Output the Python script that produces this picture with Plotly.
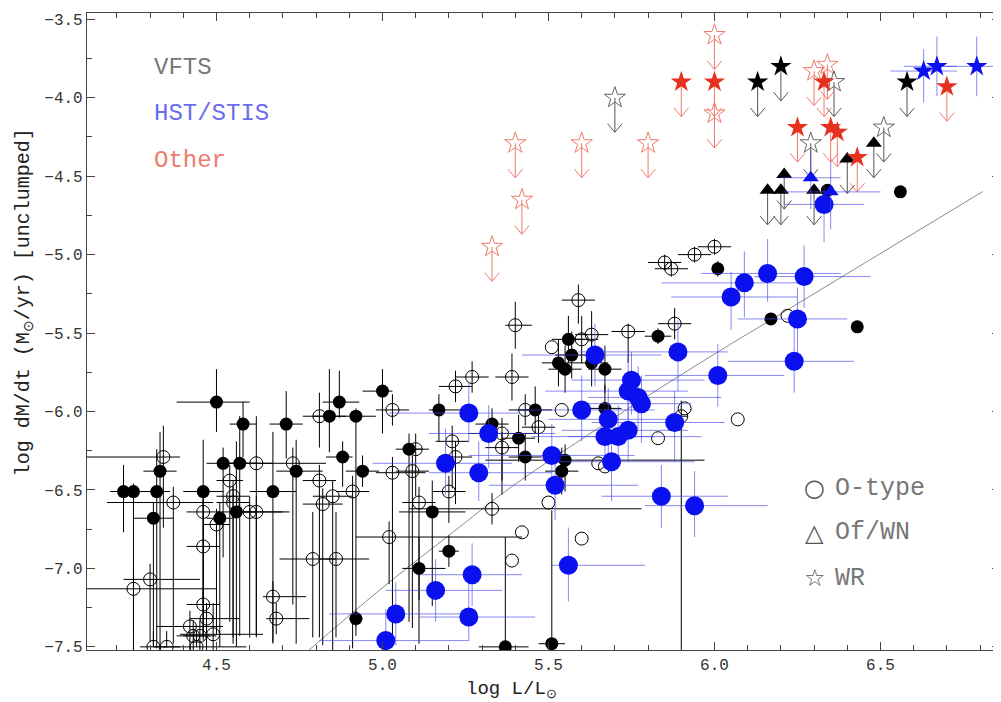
import plotly.graph_objects as go

# ---------------- data (log L/Lsun, log Mdot, errors: x-, x+, y-, y+) ----------------
# VFTS O-type, filled symbols
vf_L = [4.22, 4.25, 4.32, 4.33, 4.31, 4.46, 4.50, 4.58, 4.52, 4.57, 4.51, 4.56, 4.67, 4.71, 4.74, 4.84,
        4.87, 4.92, 5.00, 4.88, 4.94, 5.08, 5.17, 5.15, 5.20, 5.11, 4.92, 5.37, 5.51, 5.33, 5.41, 5.43,
        5.46, 5.55, 5.54, 5.56, 5.57, 5.53, 5.55, 5.63, 5.67, 5.67, 5.83, 6.01, 6.17, 6.43, 6.34, 6.56]
vf_M = [-6.51, -6.51, -6.51, -6.38, -6.68, -6.51, -5.94, -6.08, -6.33, -6.33, -6.68, -6.64, -6.51, -6.08, -6.38, -6.03,
        -5.94, -6.03, -5.87, -6.29, -6.38, -6.24, -5.99, -6.64, -6.89, -7.00, -7.32, -7.50, -7.48, -6.08, -6.17, -6.29,
        -5.99, -6.31, -6.38, -5.54, -5.64, -5.69, -5.73, -5.69, -5.73, -5.98, -5.52, -5.09, -5.41, -5.46, -4.59, -4.60]
vf_exm = [0.04, 0.05, 0.04, 0.05, 0.06, 0.06, 0.12, 0.04, 0.05, 0.05, 0.04, 0.06, 0.07, 0.05, 0.06, 0.05,
          0.05, 0.06, 0.06, 0.05, 0.05, 0.04, 0.03, 0.10, 0.03, 0.05, 0.02, 0.08, 0.04, 0.05, 0.05, 0.05,
          0.05, 0.24, 0.05, 0.05, 0.05, 0.05, 0.05, 0.05, 0.05, 0.05, 0.04, 0.00, 0.00, 0.00, 0.00, 0.00]
vf_exp = [0.04, 0.05, 0.04, 0.05, 0.06, 0.06, 0.10, 0.04, 0.05, 0.05, 0.04, 0.06, 0.07, 0.05, 0.08, 0.05,
          0.06, 0.06, 0.03, 0.03, 0.05, 0.04, 0.10, 0.10, 0.03, 0.08, 0.02, 0.07, 0.04, 0.05, 0.05, 0.05,
          0.05, 0.42, 0.05, 0.05, 0.05, 0.05, 0.05, 0.05, 0.05, 0.05, 0.04, 0.00, 0.00, 0.00, 0.00, 0.00]
vf_eym = [0.26, 0.88, 1.00, 1.12, 0.82, 0.71, 0.19, 0.21, 0.60, 1.10, 0.82, 0.86, 0.96, 0.22, 1.10, 0.23,
          0.10, 1.40, 0.27, 0.19, 0.10, 1.10, 0.20, 0.60, 0.10, 0.20, 0.05, 0.00, 0.00, 0.10, 0.15, 0.15,
          0.15, 0.20, 0.15, 0.15, 0.15, 0.15, 0.15, 0.15, 0.15, 0.15, 0.05, 0.05, 0.00, 0.00, 0.00, 0.00]
vf_eyp = [0.17, 0.05, 0.27, 0.25, 0.10, 0.33, 0.21, 0.14, 0.10, 0.30, 0.10, 0.45, 0.38, 0.21, 0.20, 0.30,
          0.20, 0.05, 0.14, 0.10, 0.10, 0.10, 0.10, 0.20, 0.10, 0.20, 0.05, 0.70, 0.85, 0.10, 0.15, 0.15,
          0.15, 0.10, 0.15, 0.15, 0.15, 0.15, 0.15, 0.15, 0.15, 0.15, 0.05, 0.05, 0.00, 0.00, 0.00, 0.00]

# VFTS O-type, open symbols
vo_L = [4.34, 4.62, 4.54, 4.55, 4.55, 4.37, 4.46, 4.50, 4.60, 4.62, 4.46, 4.30, 4.25, 4.67, 4.46, 4.47,
        4.42, 4.49, 4.43, 4.45, 4.31, 4.35, 4.44, 4.68, 4.81, 5.03, 4.73, 4.81, 4.85, 4.82, 4.91, 5.03,
        5.09, 5.10, 5.11, 5.02, 4.79, 4.86, 5.22, 5.27, 5.39, 5.40, 5.21, 5.22, 5.20, 5.36, 5.36, 5.47,
        5.43, 5.54, 5.33, 5.50, 5.42, 5.60, 5.39, 5.65, 5.67, 5.59, 5.51, 5.60, 5.63, 5.74, 5.88, 5.85,
        5.87, 5.94, 6.00, 6.22, 5.91, 5.90, 6.07, 5.83]
vo_M = [-6.29, -6.33, -6.44, -6.54, -6.58, -6.58, -6.64, -6.72, -6.64, -6.64, -6.86, -7.07, -7.13, -7.18, -7.23, -7.32,
        -7.37, -7.42, -7.43, -7.43, -7.50, -7.50, -7.50, -7.32, -6.03, -5.99, -6.33, -6.44, -6.54, -6.59, -6.51, -6.39,
        -6.38, -6.24, -6.58, -6.80, -6.94, -6.94, -5.84, -5.78, -5.78, -5.45, -6.19, -6.29, -6.51, -6.14, -6.23, -6.10,
        -5.99, -5.99, -6.62, -6.58, -6.77, -6.81, -6.95, -6.33, -6.35, -5.29, -5.59, -5.54, -5.51, -5.49, -5.44, -5.05,
        -5.09, -5.00, -4.95, -5.39, -5.98, -6.03, -6.05, -6.17]
vo_exm = [0.25, 0.04, 0.04, 0.05, 0.05, 0.20, 0.05, 0.04, 0.05, 0.05, 0.05, 0.08, 0.15, 0.03, 0.05, 0.05,
          0.10, 0.10, 0.05, 0.05, 0.04, 0.04, 0.10, 0.03, 0.05, 0.05, 0.20, 0.05, 0.06, 0.06, 0.05, 0.05,
          0.05, 0.04, 0.05, 0.10, 0.10, 0.05, 0.05, 0.05, 0.05, 0.03, 0.05, 0.05, 0.05, 0.10, 0.05, 0.05,
          0.05, 0.00, 0.25, 0.00, 0.00, 0.00, 0.00, 0.00, 0.00, 0.05, 0.00, 0.05, 0.05, 0.05, 0.05, 0.05,
          0.05, 0.05, 0.05, 0.00, 0.00, 0.02, 0.00, 0.00]
vo_exp = [0.05, 0.05, 0.04, 0.05, 0.05, 0.12, 0.05, 0.04, 0.10, 0.10, 0.05, 0.15, 0.25, 0.10, 0.05, 0.10,
          0.10, 0.15, 0.05, 0.05, 0.04, 0.04, 0.15, 0.10, 0.05, 0.05, 0.10, 0.05, 0.06, 0.06, 0.05, 0.10,
          0.05, 0.04, 0.05, 0.40, 0.07, 0.10, 0.05, 0.05, 0.05, 0.05, 0.05, 0.05, 0.05, 0.10, 0.05, 0.05,
          0.05, 0.00, 0.45, 0.00, 0.00, 0.00, 0.00, 0.00, 0.00, 0.05, 0.00, 0.05, 0.05, 0.05, 0.05, 0.05,
          0.05, 0.05, 0.05, 0.00, 0.00, 0.02, 0.00, 0.00]
vo_eym = [0.45, 1.10, 0.90, 0.90, 0.90, 0.90, 0.80, 0.70, 0.80, 0.80, 0.60, 0.40, 0.40, 0.30, 0.20, 0.20,
          0.15, 0.10, 0.10, 0.10, 0.00, 0.00, 0.00, 0.10, 0.20, 0.10, 0.90, 1.00, 1.00, 0.90, 1.00, 1.10,
          1.00, 0.30, 0.90, 0.30, 0.50, 0.50, 0.10, 0.10, 0.15, 0.15, 0.30, 0.30, 0.20, 0.30, 0.30, 0.10,
          0.10, 0.00, 0.10, 0.00, 0.00, 0.00, 0.00, 0.00, 0.00, 0.15, 0.00, 0.15, 0.15, 0.20, 0.10, 0.05,
          0.05, 0.05, 0.05, 0.00, 0.00, 1.50, 0.00, 0.00]
vo_eyp = [0.20, 0.30, 0.10, 0.10, 0.10, 0.10, 0.10, 0.10, 0.10, 0.10, 0.30, 0.10, 0.15, 0.10, 0.10, 0.10,
          0.10, 0.20, 0.10, 0.10, 0.10, 0.10, 0.10, 0.10, 0.15, 0.10, 0.10, 0.10, 0.10, 0.10, 0.10, 0.10,
          0.10, 0.10, 0.10, 0.10, 0.30, 0.30, 0.10, 0.10, 0.15, 0.15, 0.10, 0.10, 0.10, 0.10, 0.10, 0.10,
          0.10, 0.00, 0.10, 0.00, 0.00, 0.00, 0.00, 0.00, 0.00, 0.10, 0.00, 0.15, 0.15, 0.05, 0.10, 0.05,
          0.05, 0.05, 0.05, 0.00, 0.00, 0.10, 0.00, 0.00]

# HST/STIS O-type
hs_L = [5.64, 5.75, 5.74, 5.77, 5.78, 5.26, 5.60, 5.68, 5.67, 5.71, 5.74, 5.32, 5.51, 5.69, 5.19, 5.29,
        5.52, 5.84, 5.94, 5.56, 5.27, 5.16, 5.26, 5.04, 5.01, 6.05, 6.09, 6.16, 6.27, 6.25, 6.24, 5.89,
        6.01, 5.88, 6.33]
hs_M = [-5.64, -5.80, -5.87, -5.91, -5.95, -6.01, -5.99, -6.05, -6.16, -6.16, -6.12, -6.14, -6.28, -6.32, -6.33, -6.39,
        -6.47, -6.54, -6.60, -6.98, -7.04, -7.14, -7.31, -7.29, -7.46, -5.27, -5.18, -5.12, -5.14, -5.41, -5.68, -5.62,
        -5.77, -6.07, -4.68]
hs_exm = [0.22, 0.18, 0.25, 0.15, 0.20, 0.24, 0.20, 0.18, 0.22, 0.15, 0.20, 0.18, 0.25, 0.20, 0.22, 0.15,
          0.20, 0.18, 0.15, 0.05, 0.15, 0.15, 0.15, 0.20, 0.20, 0.18, 0.25, 0.20, 0.15, 0.18, 0.20, 0.30,
          0.22, 0.25, 0.12]
hs_exp = [0.20, 0.22, 0.18, 0.25, 0.15, 0.15, 0.22, 0.20, 0.15, 0.25, 0.18, 0.20, 0.25, 0.25, 0.20, 0.22,
          0.25, 0.20, 0.22, 0.23, 0.15, 0.20, 0.20, 0.20, 0.25, 0.20, 0.18, 0.22, 0.20, 0.15, 0.18, 0.15,
          0.20, 0.15, 0.12]
hs_eym = [0.20, 0.22, 0.18, 0.20, 0.25, 0.18, 0.20, 0.22, 0.20, 0.18, 0.20, 0.22, 0.25, 0.25, 0.20, 0.18,
          0.22, 0.20, 0.20, 0.23, 0.20, 0.20, 0.15, 0.20, 0.25, 0.21, 0.22, 0.18, 0.20, 0.22, 0.20, 0.25,
          0.20, 0.25, 0.24]
hs_eyp = [0.20, 0.18, 0.22, 0.20, 0.18, 0.20, 0.22, 0.20, 0.18, 0.20, 0.22, 0.18, 0.20, 0.20, 0.22, 0.20,
          0.18, 0.20, 0.22, 0.24, 0.20, 0.20, 0.25, 0.20, 0.20, 0.16, 0.20, 0.22, 0.20, 0.20, 0.22, 0.20,
          0.20, 0.20, 0.12]

# Of/WN (upper limits, VFTS) and HST/STIS Of/WN
ofv_L = [6.16, 6.20, 6.21, 6.30, 6.40, 6.48]
ofv_M = [-4.59, -4.59, -4.49, -4.59, -4.39, -4.29]
ofh_L = [6.29, 6.35]
ofh_M = [-4.51, -4.60]
ofh_exm = [0.09, 0.14]
ofh_exp = [0.09, 0.15]
ofh_eym = [0.20, 0.24]
ofh_eyp = [0.18, 0.19]

# WR stars
wrv_fill_L = [6.13, 6.20, 6.58]
wrv_fill_M = [-3.90, -3.80, -3.90]
wrv_open_L = [5.70, 6.36, 6.29, 6.51]
wrv_open_M = [-4.00, -3.90, -4.29, -4.19]
wrh_L = [6.63, 6.67, 6.79]
wrh_M = [-3.83, -3.80, -3.80]
wrh_exm = [0.10, 0.10, 0.12]
wrh_exp = [0.10, 0.06, 0.20]
wrh_eym = [0.20, 0.19, 0.19]
wrh_eyp = [0.14, 0.19, 0.19]
oth_fill_L = [5.90, 6.00, 6.33, 6.70, 6.25, 6.35, 6.37, 6.43]
oth_fill_M = [-3.90, -3.90, -3.90, -3.93, -4.19, -4.19, -4.22, -4.38]
oth_open_L = [5.33, 5.40, 5.42, 5.60, 5.80, 6.00, 6.00, 6.30, 6.34]
oth_open_M = [-4.95, -4.29, -4.65, -4.29, -4.29, -3.60, -4.10, -3.83, -3.79]

# model relation
rel_L = [4.772, 4.992, 5.233, 5.384, 5.805, 6.046, 6.136, 6.808]
rel_M = [-7.533, -7.137, -6.735, -6.487, -5.893, -5.574, -5.459, -4.598]

# ---------------- style ----------------
FONT = "Liberation Mono"
ALEN, AW, AH = 0.22, 0.022, 0.055
BLUE = "#0a10ee"
BLUE_ERR = "rgba(70,70,235,0.65)"
RED = "#e8301e"
RED_LIGHT = "#ef7a6c"
GREY = "#555555"


def arrows(xs, ys):
    X, Y = [], []
    for x, y in zip(xs, ys):
        t = y - ALEN
        X += [x, x, None, x - AW, x, x + AW, None]
        Y += [y, t, None, t + AH, t, t + AH, None]
    return X, Y


def err(arr, arrm, color, w=1):
    return dict(type="data", symmetric=False, array=arr, arrayminus=arrm,
                color=color, thickness=w, width=0)


fig = go.Figure()

fig.add_trace(go.Scatter(x=rel_L, y=rel_M, mode="lines", line=dict(color="#8a8a8a", width=1, shape="spline")))

fig.add_trace(go.Scatter(x=vo_L, y=vo_M, mode="markers",
                         marker=dict(symbol="circle-open", size=13, color="black", line=dict(width=1)),
                         error_x=err(vo_exp, vo_exm, "black"), error_y=err(vo_eyp, vo_eym, "black")))
fig.add_trace(go.Scatter(x=vf_L, y=vf_M, mode="markers",
                         marker=dict(symbol="circle", size=13, color="black"),
                         error_x=err(vf_exp, vf_exm, "black"), error_y=err(vf_eyp, vf_eym, "black")))
fig.add_trace(go.Scatter(x=hs_L, y=hs_M, mode="markers",
                         marker=dict(symbol="circle", size=19, color=BLUE),
                         error_x=err(hs_exp, hs_exm, BLUE_ERR), error_y=err(hs_eyp, hs_eym, BLUE_ERR)))

# upper-limit arrows
ax, ay = arrows(ofv_L + wrv_fill_L + wrv_open_L, ofv_M + wrv_fill_M + wrv_open_M)
fig.add_trace(go.Scatter(x=ax, y=ay, mode="lines", line=dict(color=GREY, width=1)))
ax, ay = arrows(oth_fill_L + oth_open_L, oth_fill_M + oth_open_M)
fig.add_trace(go.Scatter(x=ax, y=ay, mode="lines", line=dict(color=RED_LIGHT, width=1)))

fig.add_trace(go.Scatter(x=ofv_L, y=ofv_M, mode="markers",
                         marker=dict(symbol="triangle-up", size=14, color="black")))
fig.add_trace(go.Scatter(x=ofh_L, y=ofh_M, mode="markers",
                         marker=dict(symbol="triangle-up", size=14, color=BLUE),
                         error_x=err(ofh_exp, ofh_exm, BLUE_ERR), error_y=err(ofh_eyp, ofh_eym, BLUE_ERR)))

fig.add_trace(go.Scatter(x=oth_open_L, y=oth_open_M, mode="markers",
                         marker=dict(symbol="star-open", size=16, color=RED_LIGHT, line=dict(width=1))))
fig.add_trace(go.Scatter(x=wrv_open_L, y=wrv_open_M, mode="markers",
                         marker=dict(symbol="star-open", size=16, color="#666666", line=dict(width=1))))
fig.add_trace(go.Scatter(x=wrv_fill_L, y=wrv_fill_M, mode="markers",
                         marker=dict(symbol="star", size=16, color="black")))
fig.add_trace(go.Scatter(x=oth_fill_L, y=oth_fill_M, mode="markers",
                         marker=dict(symbol="star", size=16, color=RED)))
fig.add_trace(go.Scatter(x=wrh_L, y=wrh_M, mode="markers",
                         marker=dict(symbol="star", size=16, color=BLUE),
                         error_x=err(wrh_exp, wrh_exm, BLUE_ERR), error_y=err(wrh_eyp, wrh_eym, BLUE_ERR)))

axis_common = dict(showline=True, linecolor="#444444", linewidth=1.2, mirror="ticks",
                   ticks="inside", ticklen=8, tickcolor="#444444", tickwidth=1,
                   showgrid=False, zeroline=False, tickformat=".1f", automargin=False,
                   tickfont=dict(family=FONT, size=16, color="#333333"))

fig.update_xaxes(range=[4.11, 6.86], dtick=0.5, tick0=4.5,
                 minor=dict(dtick=0.1, ticks="inside", ticklen=5, tickcolor="#444444"),
                 **axis_common)
fig.update_yaxes(range=[-7.52, -3.46], dtick=0.5, tick0=-3.5,
                 minor=dict(dtick=0.25, ticks="inside", ticklen=5, tickcolor="#444444"),
                 **axis_common)

ann = [
    dict(text="log L/L<sub>⊙</sub>", x=0.465, y=-0.063, xref="paper", yref="paper",
         xanchor="center", yanchor="middle", showarrow=False,
         font=dict(family=FONT, size=19, color="#222222")),
    dict(text="log dM/dt (M<sub>⊙</sub>/yr) [unclumped]", x=-0.069, y=0.546, xref="paper", yref="paper",
         xanchor="center", yanchor="middle", textangle=-90, showarrow=False,
         font=dict(family=FONT, size=20, color="#222222")),
]
for txt, col, yp in [("VFTS", "#777777", 0.914), ("HST/STIS", "#6b6bef", 0.843), ("Other", "#ee7b6e", 0.769)]:
    ann.append(dict(text=txt, x=0.071, y=yp, xref="paper", yref="paper", xanchor="left", yanchor="middle",
                    showarrow=False, font=dict(family=FONT, size=24, color=col)))
for sym, txt, yp in [("○", "O-type", 0.254), ("△", "Of/WN", 0.184), ("☆", "WR", 0.113)]:
    ann.append(dict(text=sym, x=0.797, y=yp, xref="paper", yref="paper", xanchor="center", yanchor="middle",
                    showarrow=False, font=dict(family="DejaVu Sans", size=24, color="#555555")))
    ann.append(dict(text=txt, x=0.817, y=yp, xref="paper", yref="paper", xanchor="left", yanchor="middle",
                    showarrow=False, font=dict(family=FONT, size=25, color="#777777")))

# the page body adds an 8px offset, so the figure is sized to compensate
fig.update_layout(width=993, height=694, margin=dict(l=79, r=1, t=5, b=52),
                  paper_bgcolor="white", plot_bgcolor="white", showlegend=False,
                  hovermode=False, annotations=ann)

fig.write_html("out.html")
